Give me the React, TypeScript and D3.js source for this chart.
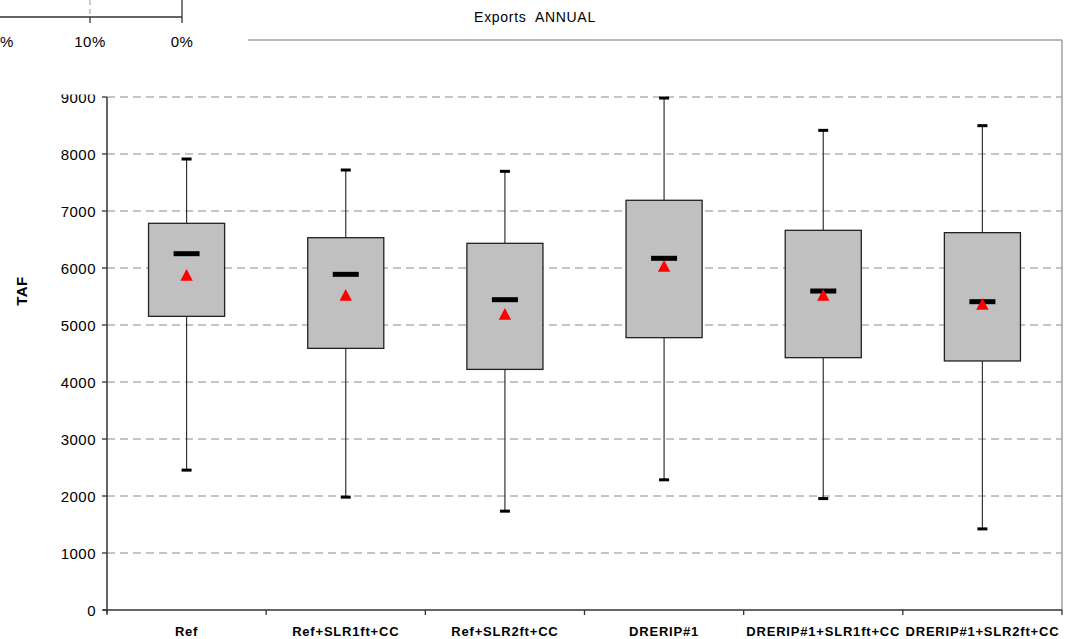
import React from "react";
import * as d3 from "d3";

const categories = ["Ref", "Ref+SLR1ft+CC", "Ref+SLR2ft+CC", "DRERIP#1", "DRERIP#1+SLR1ft+CC", "DRERIP#1+SLR2ft+CC"];
const whiskerHigh = [7912, 7719, 7696, 8982, 8415, 8497];
const q3 = [6784, 6532, 6433, 7188, 6661, 6620];
const median = [6251, 5889, 5444, 6170, 5596, 5409];
const mean = [5877, 5526, 5193, 6035, 5526, 5368];
const q1 = [5152, 4590, 4221, 4778, 4427, 4369];
const whiskerLow = [2454, 1980, 1734, 2284, 1955, 1423];
const yTicks = [0, 1000, 2000, 3000, 4000, 5000, 6000, 7000, 8000, 9000];
const gridTicks = [1000, 2000, 3000, 4000, 5000, 6000, 7000, 8000, 9000];
const overlayTickLabels = ["20%", "10%", "0%"];

const W = 1078;
const H = 639;
const left = 107;
const right = 1062;
const top = 40;
const bottom = 610;
const font = "Liberation Sans, Arial, sans-serif";

export default function App() {
  const y = d3.scaleLinear().domain([0, 10000]).range([bottom, top]);
  const x = d3.scaleBand<string>().domain(categories).range([left, right]).paddingInner(0).paddingOuter(0);
  const bw = x.bandwidth();
  const boxW = bw * 0.478;
  const ovx = d3.scaleLinear().domain([0, 2]).range([-2, 182]);

  return (
    <svg width={W} height={H} style={{ position: "absolute", left: 0, top: 0, background: "#fff" }}>
      <rect x={0} y={0} width={W} height={H} fill="#fff" />
      <text x={535} y={22} textAnchor="middle" fontFamily={font} fontSize={14} letterSpacing={0.7} fill="#000" style={{ whiteSpace: "pre" }}>{"Exports  ANNUAL"}</text>

      {/* gridlines */}
      {gridTicks.map((t) => (
        <line key={t} x1={left} x2={right} y1={y(t)} y2={y(t)} stroke="#8a8a8a" strokeWidth={1} strokeDasharray="8,5" />
      ))}
      {/* plot border top/right */}
      <line x1={left} x2={right} y1={y(10000)} y2={y(10000)} stroke="#a0a0a0" strokeWidth={1.5} />
      <line x1={right} x2={right} y1={top} y2={bottom} stroke="#a0a0a0" strokeWidth={1.5} />

      {/* boxes */}
      {categories.map((c, i) => {
        const cx = (x(c) as number) + bw / 2;
        return (
          <g key={c}>
            <line x1={cx} x2={cx} y1={y(whiskerHigh[i])} y2={y(q3[i])} stroke="#333" strokeWidth={1.2} />
            <line x1={cx} x2={cx} y1={y(q1[i])} y2={y(whiskerLow[i])} stroke="#333" strokeWidth={1.2} />
            <rect x={cx - 5} y={y(whiskerHigh[i]) - 1.5} width={10} height={3} fill="#000" />
            <rect x={cx - 5} y={y(whiskerLow[i]) - 1.5} width={10} height={3} fill="#000" />
            <rect x={cx - boxW / 2} y={y(q3[i])} width={boxW} height={y(q1[i]) - y(q3[i])} fill="#c0c0c0" stroke="#222" strokeWidth={1.3} />
            <rect x={cx - 13} y={y(median[i]) - 2.5} width={26} height={5} fill="#000" />
            <path
              d={`M${cx},${y(mean[i]) - 6} L${cx + 6.2},${y(mean[i]) + 5.8} L${cx - 6.2},${y(mean[i]) + 5.8} Z`}
              fill="#ff0000"
            />
          </g>
        );
      })}

      {/* y axis */}
      <line x1={left} x2={left} y1={y(9000)} y2={bottom + 3} stroke="#333" strokeWidth={1.5} />
      {yTicks.map((t) => (
        <g key={t}>
          <line x1={left - 5} x2={left} y1={y(t)} y2={y(t)} stroke="#333" strokeWidth={1.3} />
          <text x={96} y={y(t) + 5.5} textAnchor="end" fontFamily={font} fontSize={15} letterSpacing={0.5} fill="#000">{t}</text>
        </g>
      ))}
      <text transform={`translate(27,291) rotate(-90)`} textAnchor="middle" fontFamily={font} fontSize={15} fontWeight="bold" letterSpacing={0.5} fill="#000">TAF</text>

      {/* x axis */}
      <line x1={left - 4} x2={right} y1={bottom} y2={bottom} stroke="#333" strokeWidth={1.5} />
      {categories.map((c) => (
        <line key={"t" + c} x1={x(c) as number} x2={x(c) as number} y1={bottom} y2={bottom + 5} stroke="#333" strokeWidth={1.3} />
      ))}
      <line x1={right} x2={right} y1={bottom} y2={bottom + 5} stroke="#333" strokeWidth={1.3} />
      {categories.map((c) => (
        <text key={"l" + c} x={(x(c) as number) + bw / 2} y={636} textAnchor="middle" fontFamily={font} fontSize={13} fontWeight="bold" letterSpacing={0.8} fill="#000">{c}</text>
      ))}

      {/* overlapping fragment of another chart in the top-left corner */}
      <rect x={0} y={0} width={248} height={94.5} fill="#fff" />
      <line x1={90} x2={90} y1={0} y2={14} stroke="#999" strokeWidth={1} strokeDasharray="5,4" />
      <line x1={0} x2={182} y1={17} y2={17} stroke="#333" strokeWidth={1.3} />
      <line x1={182} x2={182} y1={0} y2={23} stroke="#333" strokeWidth={1.3} />
      <line x1={90} x2={90} y1={17} y2={23} stroke="#333" strokeWidth={1.3} />
      {overlayTickLabels.map((l, i) => (
        <text key={l} x={ovx(i)} y={47} textAnchor="middle" fontFamily={font} fontSize={15} letterSpacing={0.5} fill="#000">{l}</text>
      ))}
    </svg>
  );
}
